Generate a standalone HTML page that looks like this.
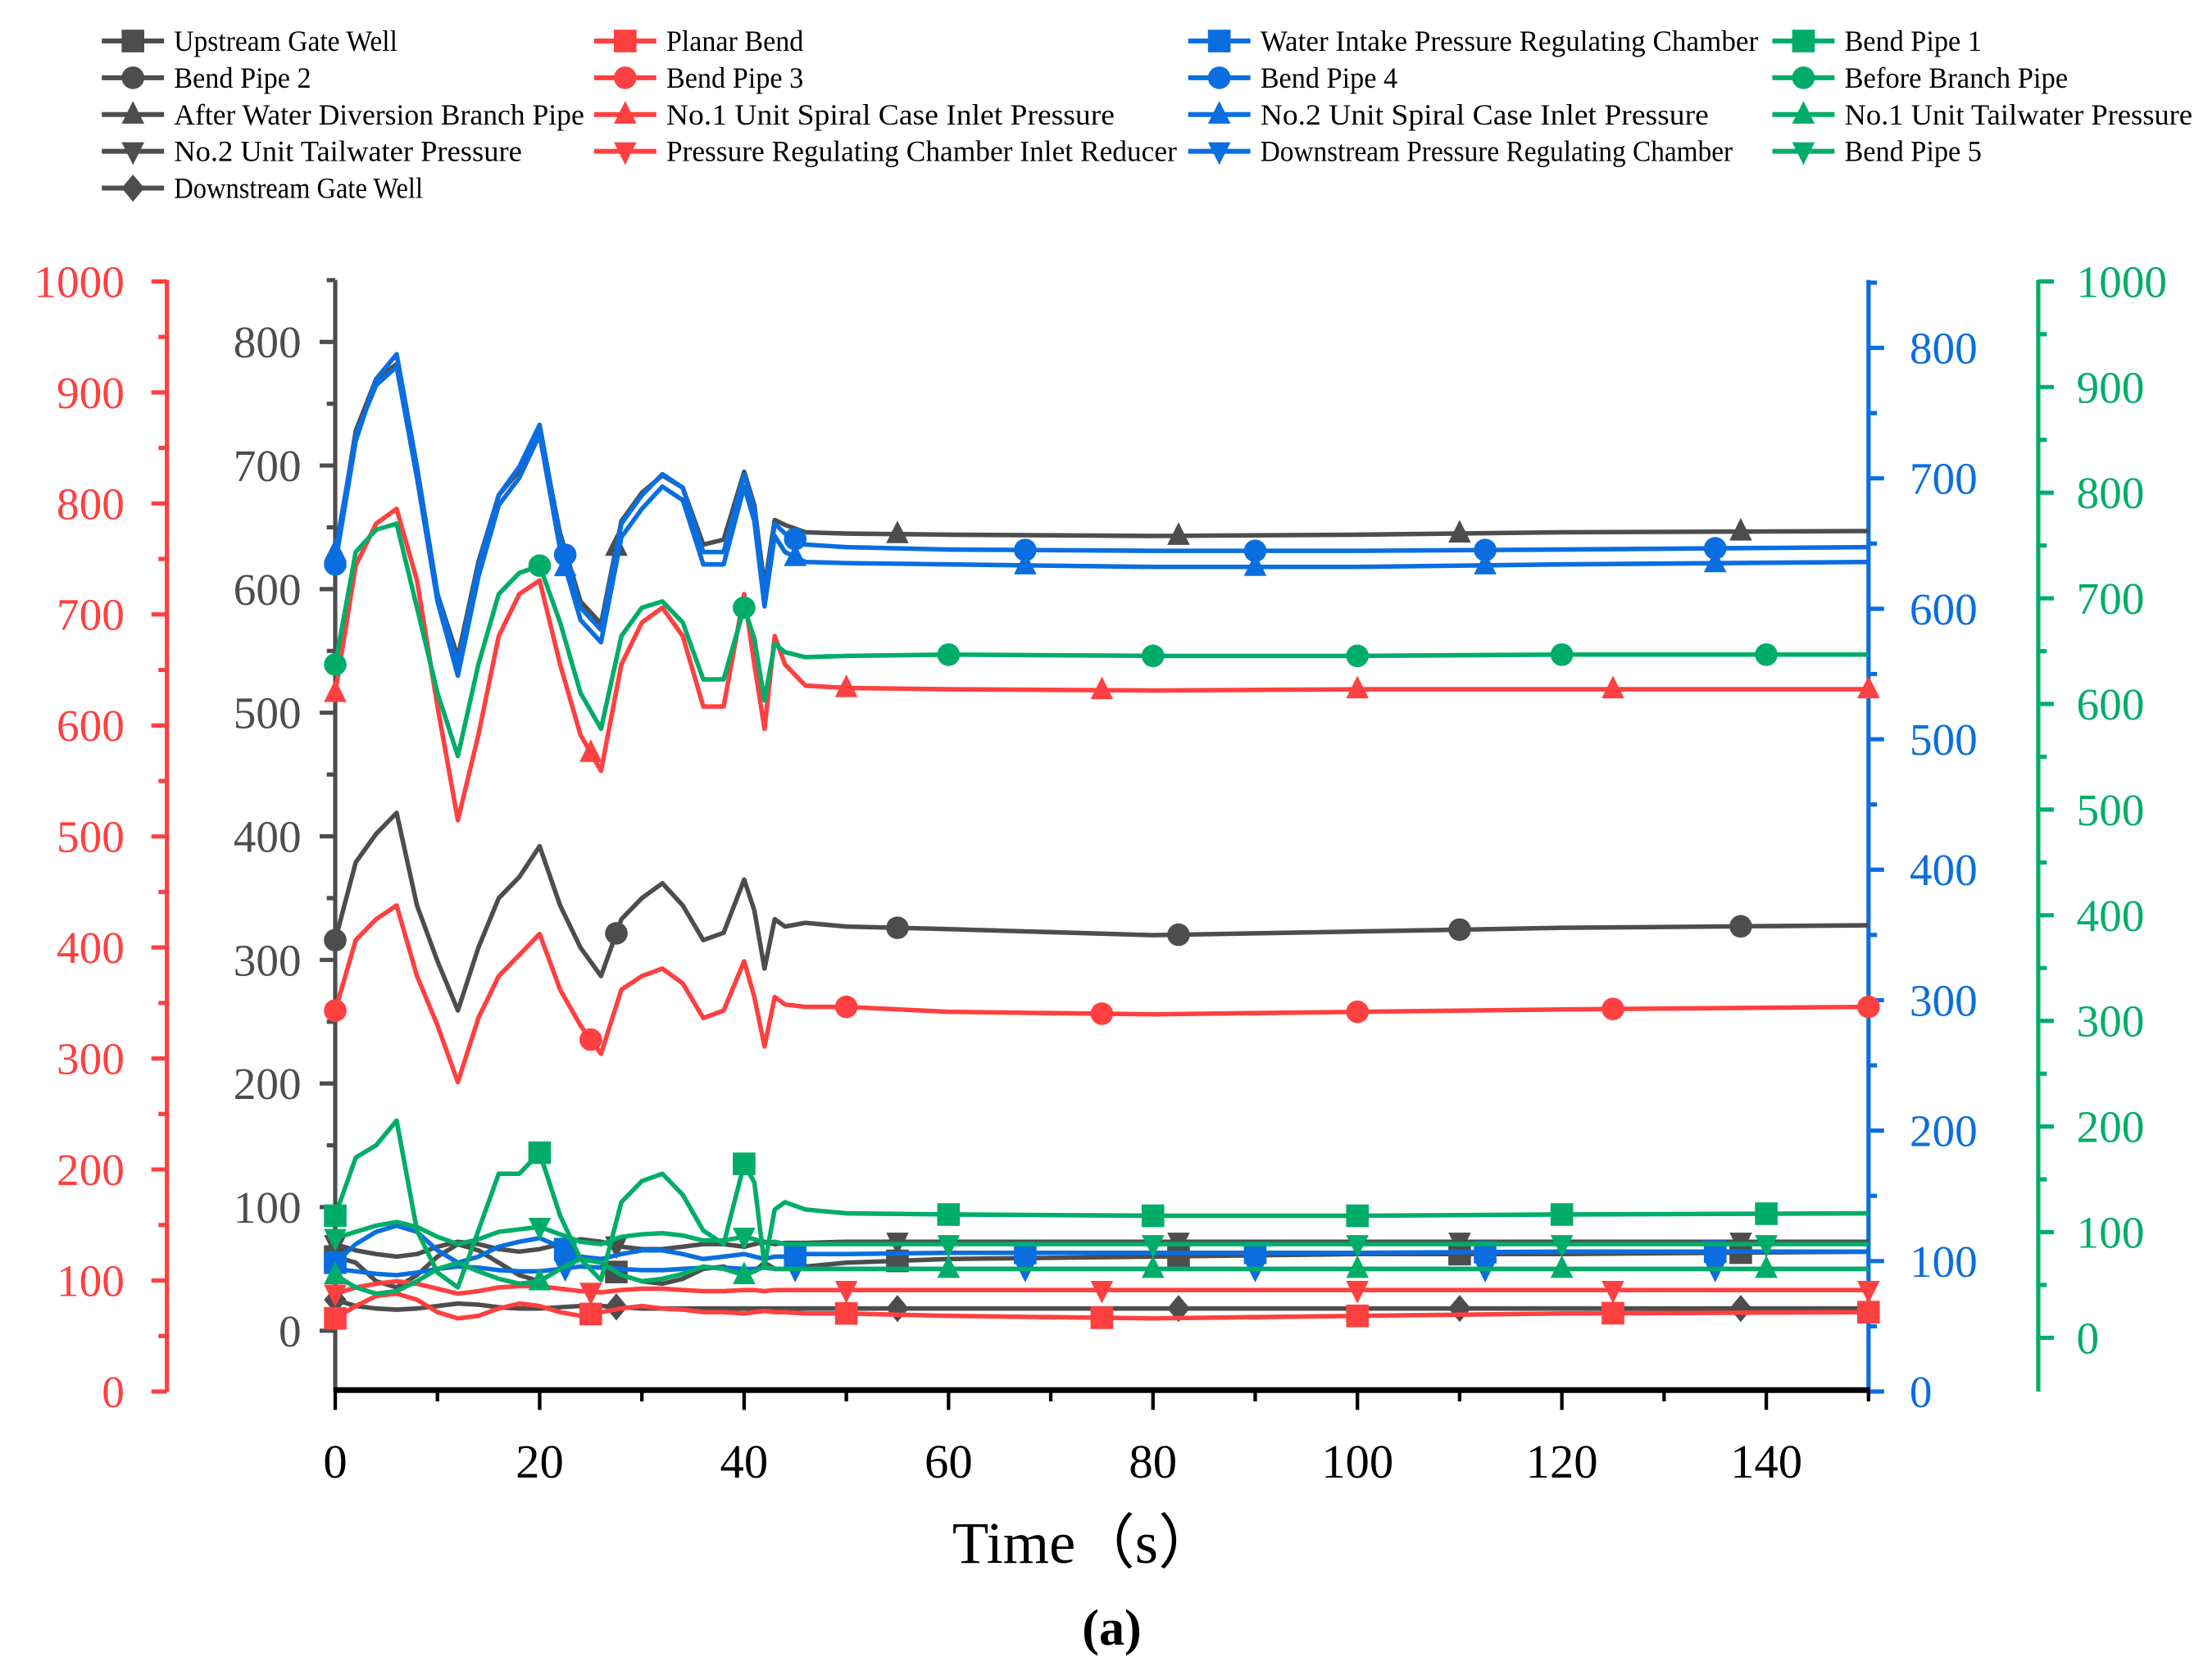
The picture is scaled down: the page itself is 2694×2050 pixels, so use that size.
<!DOCTYPE html>
<html><head><meta charset="utf-8"><style>
html,body{margin:0;padding:0;background:#fff;}
svg{display:block;}
text{font-family:"Liberation Serif","DejaVu Serif",serif;}
</style></head><body>
<svg id="chart" width="2694" height="2050" viewBox="0 0 1561 1188" preserveAspectRatio="none" xmlns="http://www.w3.org/2000/svg" font-family="Liberation Serif, DejaVu Serif, serif">
<g id="legend"></g>
<g id="axes"></g>
<g id="plot"></g>
<text x="767" y="1105" font-size="42" text-anchor="middle">Time（s）</text>
<text x="786" y="1163" font-size="36" font-weight="bold" text-anchor="middle">(a)</text>
</svg>
<script>
const times = [0,2,4,6,8,10,12,14,16,18,20,22,24,26,28,30,32,34,36,38,40,41,42,43,44,46,50,60,80,100,120,150];
const xTicks = [0,20,40,60,80,100,120,140];
const leftTicks = [0,100,200,300,400,500,600,700,800];
const redTicks = [0,100,200,300,400,500,600,700,800,900,1000];
const blueTicks = [0,100,200,300,400,500,600,700,800];
const greenTicks = [0,100,200,300,400,500,600,700,800,900,1000];

const upstreamGateWell = [60,55,40,35,45,60,70,65,55,45,40,50,60,55,45,40,38,42,50,52,45,48,55,50,50,52,55,58,60,62,62,64];
const planarBend = [10,20,28,30,25,15,10,12,18,22,20,15,12,15,18,20,18,17,15,15,14,15,16,15,15,14,14,12,10,12,14,15];
const waterIntake = [55,70,80,85,80,65,55,60,68,72,75,68,60,58,62,65,65,62,58,60,62,60,58,60,60,62,62,63,63,63,64,64];
const bendPipe1 = [93,140,150,170,81,47,35,81,127,127,144,93,58,41,104,121,127,110,81,70,135,120,53,98,104,98,95,94,93,93,94,95];
const bendPipe2 = [316,379,402,419,344,299,259,310,350,367,392,344,310,287,333,350,362,344,316,322,365,340,293,333,327,330,327,325,320,323,326,328];
const bendPipe3 = [259,316,333,344,287,247,201,253,287,304,321,276,247,224,276,287,293,281,253,259,299,270,230,270,264,262,262,258,256,258,260,262];
const bendPipe4 = [620,720,770,790,699,596,539,619,676,699,733,642,585,567,653,676,693,682,630,630,693,665,596,653,645,636,634,632,631,631,632,634];
const beforeBranchPipe = [539,630,648,653,585,516,465,539,596,613,619,573,516,487,562,585,590,573,527,527,585,560,510,556,549,545,546,547,546,546,547,547];
const afterWaterDiversion = [625,728,770,782,695,596,545,622,676,696,728,645,590,572,655,678,692,682,636,640,695,668,602,656,652,646,645,644,643,644,646,647];
const no1SpiralCase = [516,619,653,665,607,505,413,482,562,596,607,539,482,453,539,573,585,562,505,505,596,539,487,562,539,522,520,519,518,519,519,519];
const no2SpiralCase = [630,725,765,780,690,590,530,610,668,690,725,632,575,557,642,665,683,672,620,620,683,655,586,643,630,622,621,620,618,618,620,622];
const no1Tailwater = [45,35,30,32,40,50,55,48,42,38,40,50,58,55,45,40,42,46,52,50,45,48,52,50,50,50,50,50,50,50,50,50];
const no2Tailwater = [70,65,62,60,62,68,72,70,66,64,66,70,74,72,68,66,66,68,70,70,68,70,72,70,71,71,72,72,72,72,72,72];
const regReducer = [30,35,38,40,38,34,30,32,35,36,36,34,32,31,33,34,34,33,32,32,33,33,32,33,33,33,33,33,33,33,33,33];
const downstreamRegChamber = [50,48,46,45,47,50,52,51,49,48,48,50,52,51,50,49,49,50,51,51,50,50,51,50,50,50,50,50,50,50,50,50];
const bendPipe5 = [75,80,85,88,84,76,70,74,80,82,84,78,72,70,76,78,79,77,73,73,76,74,71,72,70,70,70,70,70,70,70,70];
const downstreamGateWell = [25,20,18,17,18,20,22,21,19,18,18,19,20,20,19,18,18,18,18,18,18,18,18,18,18,18,18,18,18,18,18,18];

const GRAY="#4d4d4d", RED="#ff4040", BLUE="#0a6ee0", GREEN="#00ad68";
const NS="http://www.w3.org/2000/svg";
function X(t){return 237+t*(1321-237)/150;}
function Y(v){return 941-v*0.874;}
function mk(tag,attrs,parent){const e=document.createElementNS(NS,tag);for(const k in attrs)e.setAttribute(k,attrs[k]);parent.appendChild(e);return e;}
function marker(shape,cx,cy,r,color,parent){
  let e;
  if(shape==="square") e=mk("rect",{x:cx-r,y:cy-r,width:2*r,height:2*r,fill:color},parent);
  else if(shape==="circle") e=mk("circle",{cx:cx,cy:cy,r:r,fill:color},parent);
  else if(shape==="up") e=mk("polygon",{points:`${cx},${cy-r*1.2} ${cx+r},${cy+r*0.8} ${cx-r},${cy+r*0.8}`,fill:color},parent);
  else if(shape==="down") e=mk("polygon",{points:`${cx},${cy+r*1.2} ${cx+r},${cy-r*0.8} ${cx-r},${cy-r*0.8}`,fill:color},parent);
  else e=mk("polygon",{points:`${cx},${cy-r*1.2} ${cx+r},${cy} ${cx},${cy+r*1.2} ${cx-r},${cy}`,fill:color},parent);
  return e;
}
const series=[
 {name:"Upstream Gate Well",d:upstreamGateWell,c:GRAY,s:"square",m:27.5},
 {name:"Bend Pipe 2",d:bendPipe2,c:GRAY,s:"circle",m:27.5},
 {name:"After Water Diversion Branch Pipe",d:afterWaterDiversion,c:GRAY,s:"up",m:27.5},
 {name:"No.2 Unit Tailwater Pressure",d:no2Tailwater,c:GRAY,s:"down",m:27.5},
 {name:"Downstream Gate Well",d:downstreamGateWell,c:GRAY,s:"diamond",m:27.5},
 {name:"Planar Bend",d:planarBend,c:RED,s:"square",m:25},
 {name:"Bend Pipe 3",d:bendPipe3,c:RED,s:"circle",m:25},
 {name:"No.1 Unit Spiral Case Inlet Pressure",d:no1SpiralCase,c:RED,s:"up",m:25},
 {name:"Pressure Regulating Chamber Inlet Reducer",d:regReducer,c:RED,s:"down",m:25},
 {name:"Water Intake Pressure Regulating Chamber",d:waterIntake,c:BLUE,s:"square",m:22.5},
 {name:"Bend Pipe 4",d:bendPipe4,c:BLUE,s:"circle",m:22.5},
 {name:"No.2 Unit Spiral Case Inlet Pressure",d:no2SpiralCase,c:BLUE,s:"up",m:22.5},
 {name:"Downstream Pressure Regulating Chamber",d:downstreamRegChamber,c:BLUE,s:"down",m:22.5},
 {name:"Bend Pipe 1",d:bendPipe1,c:GREEN,s:"square",m:20},
 {name:"Before Branch Pipe",d:beforeBranchPipe,c:GREEN,s:"circle",m:20},
 {name:"No.1 Unit Tailwater Pressure",d:no1Tailwater,c:GREEN,s:"up",m:20},
 {name:"Bend Pipe 5",d:bendPipe5,c:GREEN,s:"down",m:20}
];
function interp(d,t){for(let i=0;i<times.length-1;i++){if(t>=times[i]&&t<=times[i+1]){const f=(t-times[i])/(times[i+1]-times[i]);return d[i]+(d[i+1]-d[i])*f;}}return d[d.length-1];}
const plot=document.getElementById("plot");
series.forEach(s=>{
  const slug=s.name.toLowerCase().replace(/[^a-z0-9]+/g,"-");
  const g=mk("g",{},plot);
  
  
  const p=mk("polyline",{points:times.map((t,i)=>X(t).toFixed(1)+","+Y(s.d[i]).toFixed(1)).join(" "),fill:"none",stroke:s.c,"stroke-width":3.2,"stroke-linejoin":"round"},g);
  
  
  for(let t=0;t<=150;t+=s.m){
    const e=marker(s.s,X(t),Y(interp(s.d,t)),8,s.c,g);
    
    
  }
});
const leg=document.getElementById("legend");
const colsX=[72,420,840,1253];
const legendOrder=[
 ["Upstream Gate Well",0,0],["Planar Bend",1,0],["Water Intake Pressure Regulating Chamber",2,0],["Bend Pipe 1",3,0],
 ["Bend Pipe 2",0,1],["Bend Pipe 3",1,1],["Bend Pipe 4",2,1],["Before Branch Pipe",3,1],
 ["After Water Diversion Branch Pipe",0,2],["No.1 Unit Spiral Case Inlet Pressure",1,2],["No.2 Unit Spiral Case Inlet Pressure",2,2],["No.1 Unit Tailwater Pressure",3,2],
 ["No.2 Unit Tailwater Pressure",0,3],["Pressure Regulating Chamber Inlet Reducer",1,3],["Downstream Pressure Regulating Chamber",2,3],["Bend Pipe 5",3,3],
 ["Downstream Gate Well",0,4]];
legendOrder.forEach(([n,c,r])=>{
  const s=series.find(q=>q.name===n);
  const x=colsX[c], y=29+r*26;
  const g=mk("g",{},leg);
  
  
  mk("line",{x1:x,y1:y,x2:x+44,y2:y,stroke:s.c,"stroke-width":3.5},g);
  marker(s.s,x+22,y,8,s.c,g);
  const t=mk("text",{x:x+51,y:y+7,"font-size":21,textLength:(n.length*8.8).toFixed(0),lengthAdjust:"spacingAndGlyphs",fill:"#000"},g);
  t.textContent=n;
});
const ax=document.getElementById("axes");
function vaxis(x,y0,y1,color,ticks,yf,dir,labelX,anchor,name,minorStep){
  const g=mk("g",{},ax);
  
  
  mk("line",{x1:x,y1:y0,x2:x,y2:y1,stroke:color,"stroke-width":3},g);
  ticks.forEach(v=>{
    const y=yf(v);
    mk("line",{x1:x,y1:y,x2:x+dir*11,y2:y,stroke:color,"stroke-width":3},g);
    const t=mk("text",{x:labelX,y:y+11,"font-size":32,fill:color,"text-anchor":anchor},g);
    t.textContent=v;
    const ym=yf(v+minorStep);
    if(ym>=y1-1) mk("line",{x1:x,y1:ym,x2:x+dir*6,y2:ym,stroke:color,"stroke-width":3},g);
  });
}
vaxis(118,984,198,RED,redTicks,v=>984-v*0.785,-1,88,"end","red-y-axis",50);
vaxis(237,984,198,GRAY,leftTicks,Y,-1,213,"end","left-y-axis",50);
vaxis(1321,984,198,BLUE,blueTicks,v=>984-v*0.9225,1,1350,"start","blue-y-axis",50);
vaxis(1441,984,198,GREEN,greenTicks,v=>946-v*0.747,1,1468,"start","green-y-axis",50);
const gx=mk("g",{},ax);


mk("line",{x1:236,y1:983,x2:1322,y2:983,stroke:"#000","stroke-width":4},gx);
for(let t=0;t<=150;t+=10){mk("line",{x1:X(t),y1:983,x2:X(t),y2:(t%20===0)?997:991,stroke:"#000","stroke-width":2.5},gx);}
xTicks.forEach(t=>{const e=mk("text",{x:X(t),y:1045,"font-size":34,"text-anchor":"middle",fill:"#000"},gx);e.textContent=t;});
</script>
</body></html>
